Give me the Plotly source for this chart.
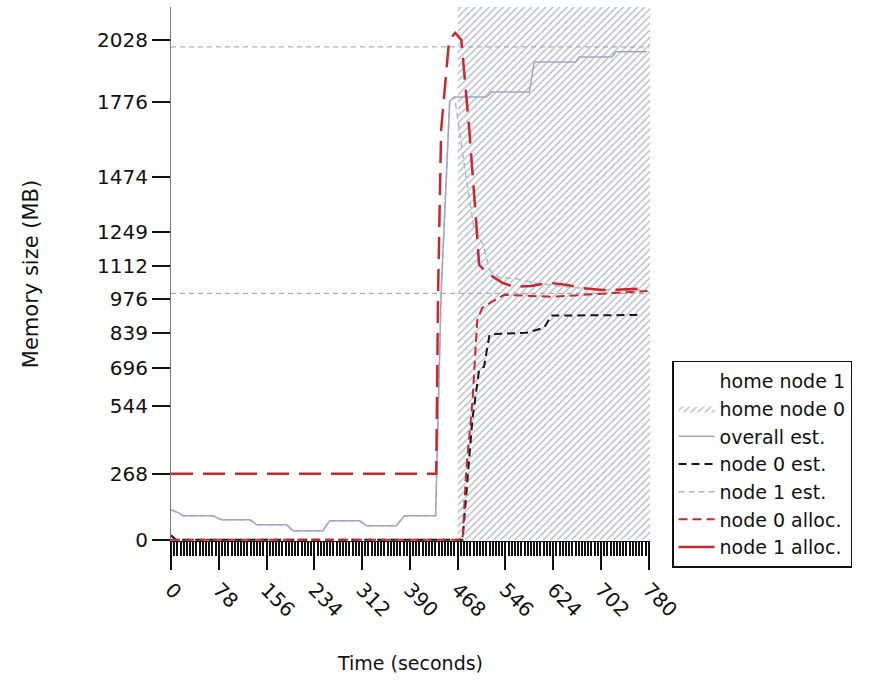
import plotly.graph_objects as go

# ---- data ----
home1_span = [0, 468]          # seconds, un-shaded region
home0_span = [468, 782]        # seconds, hatched region
y_top = 2162

ref_levels = [1000, 2000]

overall_t = [0, 12, 20, 68, 83, 129, 140, 189, 199, 248, 259, 308, 319, 368, 381, 432,
             441, 455, 463, 515, 523, 585, 593, 661, 666, 720, 726, 777]
overall_v = [122, 110, 97, 97, 81, 81, 61, 61, 37, 37, 77, 77, 57, 57, 97, 97,
             1000, 1780, 1797, 1797, 1817, 1817, 1939, 1939, 1959, 1959, 1980, 1980]

node0_est_t = [0, 8, 476, 492, 503, 511, 520, 536, 580, 609, 621, 767]
node0_est_v = [18, 0, 0, 487, 690, 702, 832, 836, 840, 860, 910, 912]

node1_est_t = [0, 20, 68, 83, 129, 140, 189, 199, 248, 259, 308, 319, 368, 381, 432,
               441, 455, 463, 480, 495, 510, 520, 535, 560, 600, 650, 700, 767]
node1_est_v = [122, 97, 97, 81, 81, 61, 61, 37, 37, 77, 77, 57, 57, 97, 97,
               1000, 1780, 1797, 1500, 1258, 1197, 1095, 1065, 1060, 1040, 1025, 1015, 1012]

node0_alloc_t = [0, 467, 476, 482, 492, 500, 508, 524, 544, 622, 700, 764, 778]
node0_alloc_v = [0, 0, 0, 284, 556, 892, 941, 966, 994, 986, 998, 1006, 1010]

node1_alloc_t = [0, 425, 433, 436, 441, 454, 464, 474, 487, 498, 503, 516, 541, 560, 588,
                 617, 647, 669, 704, 720, 764, 778]
node1_alloc_v = [268, 268, 268, 1000, 1663, 2028, 2057, 2028, 1663, 1298, 1116, 1083, 1043,
                 1026, 1030, 1043, 1034, 1022, 1014, 1014, 1018, 1020]

y_ticks = [0, 268, 544, 696, 839, 976, 1112, 1249, 1474, 1776, 2028]
x_ticks = [0, 78, 156, 234, 312, 390, 468, 546, 624, 702, 780]

FONT = "DejaVu Sans, Liberation Sans, Arial, sans-serif"
RED = "#c8282c"

fig = go.Figure()

# home node 1 (white region, no visible swatch)
fig.add_trace(go.Scatter(
    x=[home1_span[0], home1_span[1], home1_span[1], home1_span[0], home1_span[0]],
    y=[0, 0, y_top, y_top, 0], mode="lines", fill="toself",
    fillcolor="rgba(255,255,255,0)", line=dict(width=0, color="rgba(0,0,0,0)"),
    name="home node 1", hoverinfo="skip", legendrank=1))

# home node 0 (hatched region)
fig.add_trace(go.Scatter(
    x=[home0_span[0], home0_span[1], home0_span[1], home0_span[0], home0_span[0]],
    y=[0, 0, y_top, y_top, 0], mode="lines", fill="toself",
    fillcolor="white",
    fillpattern=dict(shape="/", fgcolor="#aab3c6", bgcolor="white", size=5,
                     solidity=0.25, fgopacity=1),
    line=dict(width=0, color="rgba(0,0,0,0)"),
    name="home node 0", hoverinfo="skip", legendrank=2))

# reference levels
for lv in ref_levels:
    fig.add_trace(go.Scatter(x=[0, 780], y=[lv, lv], mode="lines",
                             line=dict(color="#9a9aa8", width=1, dash="5px,4px"),
                             showlegend=False, hoverinfo="skip"))

fig.add_trace(go.Scatter(x=node1_est_t, y=node1_est_v, mode="lines",
                         line=dict(color="#b4b6c2", width=1.5, dash="6px,4px"),
                         name="node 1 est.", legendrank=5))
fig.add_trace(go.Scatter(x=overall_t, y=overall_v, mode="lines",
                         line=dict(color="#a2a5c8", width=1.5),
                         name="overall est.", legendrank=3))
fig.add_trace(go.Scatter(x=node0_est_t, y=node0_est_v, mode="lines",
                         line=dict(color="#151515", width=2, dash="8px,5px"),
                         name="node 0 est.", legendrank=4))
fig.add_trace(go.Scatter(x=node0_alloc_t, y=node0_alloc_v, mode="lines",
                         line=dict(color=RED, width=2, dash="9px,5px"),
                         name="node 0 alloc.", legendrank=6))
fig.add_trace(go.Scatter(x=node1_alloc_t, y=node1_alloc_v, mode="lines",
                         line=dict(color=RED, width=2.5, dash="22px,10px"),
                         name="node 1 alloc.", showlegend=False,
                         legendgroup="n1a"))
# legend entry for node 1 alloc. (shown solid in the reference legend)
fig.add_trace(go.Scatter(x=[None], y=[None], mode="lines",
                         line=dict(color=RED, width=2.5),
                         name="node 1 alloc.", legendrank=7, legendgroup="n1a"))

fig.update_layout(
    width=883, height=683,
    margin=dict(l=171, r=233, t=7, b=142),
    plot_bgcolor="white", paper_bgcolor="white",
    font=dict(family=FONT, size=20, color="#111"),
    showlegend=True,
    legend=dict(x=1.046, y=0.338, xanchor="left", yanchor="top",
                bgcolor="white", bordercolor="#111", borderwidth=1.5,
                font=dict(size=19, family=FONT), itemwidth=36,
                tracegroupgap=0),
)
fig.update_xaxes(
    range=[0, 782], tickvals=x_ticks, ticktext=[str(v) for v in x_ticks],
    tickangle=45, ticks="outside", ticklen=28, tickwidth=1.5, tickcolor="#111",
    showline=True, linecolor="#111", linewidth=1.2, showgrid=False, zeroline=False,
    minor=dict(dtick=5.2, tick0=0, ticks="outside", ticklen=14, tickwidth=1.6,
               tickcolor="#111", showgrid=False),
    title=dict(text="Time (seconds)", font=dict(size=19, family=FONT), standoff=35),
    tickfont=dict(size=20, family=FONT),
)
fig.update_yaxes(
    range=[-5, y_top], tickvals=y_ticks, ticktext=[str(v) for v in y_ticks],
    ticks="outside", ticklen=18, tickwidth=1.5, tickcolor="#111",
    showline=True, linecolor="#777", linewidth=1.2, showgrid=False, zeroline=False,
    title=dict(text="Memory size (MB)", font=dict(size=21, family=FONT), standoff=52),
    tickfont=dict(size=20, family=FONT),
)

fig.write_html("out.html")
